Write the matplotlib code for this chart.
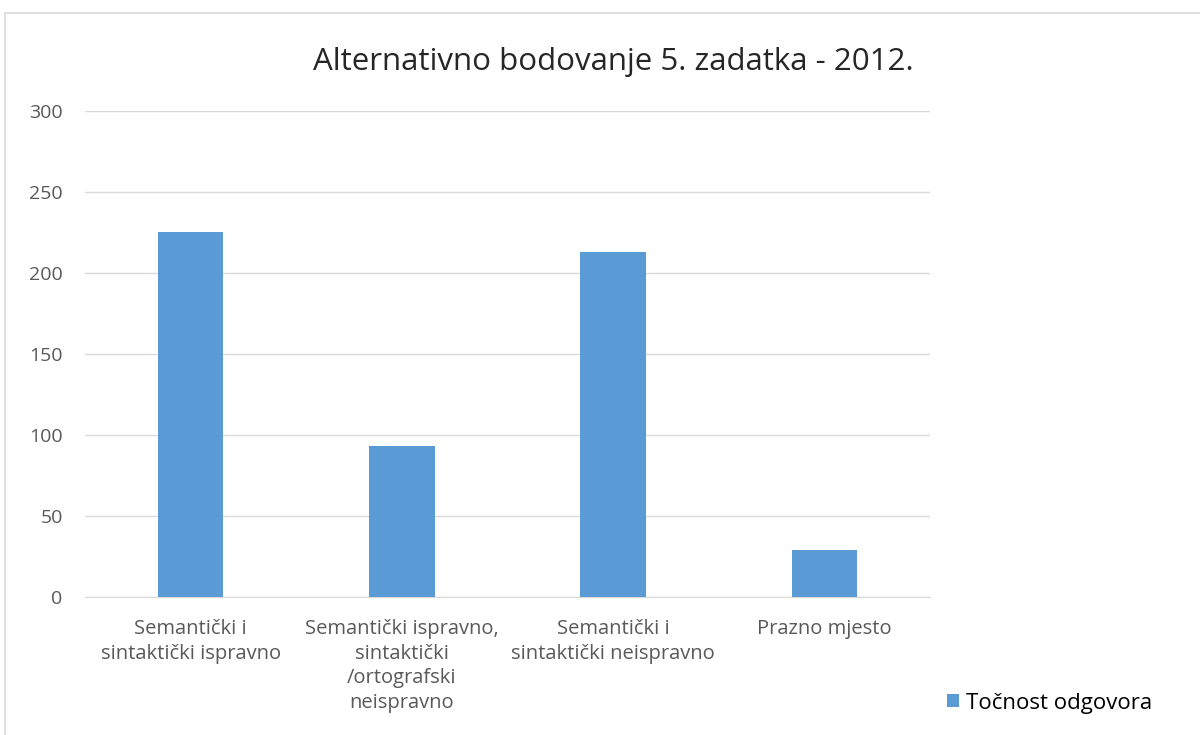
import matplotlib.pyplot as plt
from matplotlib.patches import Rectangle

plt.rcParams['font.family'] = ['Open Sans', 'DejaVu Sans']

categories = ['Semantički i\nsintaktički ispravno',
              'Semantički ispravno,\nsintaktički\n/ortografski\nneispravno',
              'Semantički i\nsintaktički neispravno',
              'Prazno mjesto']
values = [225, 93, 213, 29]
series_name = 'Točnost odgovora'
title = 'Alternativno bodovanje 5. zadatka - 2012.'

fig = plt.figure(figsize=(12, 7.35), dpi=100)
ax = fig.add_axes([0.0708, 0.1878, 0.7042, 0.6612])

# chart border like the spreadsheet frame
fig.patches.append(Rectangle((5/1200, -0.01), 1.0, 1 - 13/735 + 0.01,
                             transform=fig.transFigure, fill=False,
                             edgecolor='#D9D9D9', linewidth=1.2))

x = range(len(categories))
ax.bar(x, values, width=0.31, color='#5B9BD5', label=series_name, zorder=3)

ax.set_xlim(-0.5, len(categories) - 0.5)
ax.set_ylim(0, 300)
ax.set_yticks(range(0, 301, 50))
ax.grid(axis='y', color='#D9D9D9', linewidth=1, zorder=0)
ax.set_xticks(list(x))
ax.set_xticklabels(categories, fontsize=14.5, color='#595959', linespacing=1.3)
ax.tick_params(axis='y', labelsize=14, labelcolor='#595959', length=0, pad=16)
ax.tick_params(axis='x', length=0, pad=16)
for s in ['top', 'right', 'left']:
    ax.spines[s].set_visible(False)
ax.spines['bottom'].set_color('#D9D9D9')

fig.text(613/1200, 1 - 62/735, title, fontsize=22.5, color='#262626',
         ha='center', va='center')

fig.legend(loc='center left', bbox_to_anchor=(927/1200, 1 - 703/735),
           frameon=False, fontsize=16, handlelength=0.55, handleheight=0.55,
           handletextpad=0.3, labelcolor='black')

fig.savefig('out.png', dpi=100)
